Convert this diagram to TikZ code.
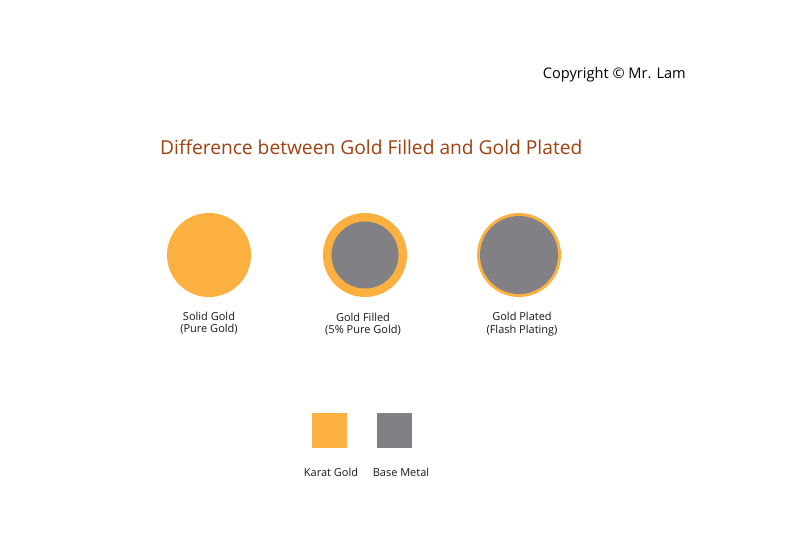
\documentclass[tikz,border=0pt]{standalone}
\usepackage{fontspec}
\setmainfont{Open Sans}
\definecolor{gold}{RGB}{251,176,64}
\definecolor{basemetal}{RGB}{128,128,133}
\definecolor{titlebrown}{RGB}{160,65,15}
\begin{document}
\begin{tikzpicture}[x=1pt,y=-1pt,
  lbl/.style={font=\fontsize{11}{12.5}\selectfont, align=center, inner sep=0pt, text=black!90},
  goldring/.style={circle, fill=gold, minimum size=84pt, inner sep=0pt},
  core/.style={circle, fill=basemetal, inner sep=0pt},
  swatch/.style={minimum size=35pt, inner sep=0pt}]
\useasboundingbox (0,0) rectangle (794,556);
\fill[white] (0,0) rectangle (794,556);
\node[anchor=east, font=\fontsize{14.6}{17}\selectfont, inner sep=0pt] (copy) at (686,74.5) {Copyright © Mr. Lam};
\node[anchor=west, font=\fontsize{19.2}{23}\selectfont, text=titlebrown, inner sep=0pt] (title) at (160,147) {Difference between Gold Filled and Gold Plated};
\node[goldring] (c1) at (209,255) {};
\node[goldring] (c2) at (365,255) {};
\node[core, minimum size=67pt] (k2) at (365,255) {};
\node[goldring] (c3) at (519,255) {};
\node[core, minimum size=78pt] (k3) at (519,255) {};
\node[lbl] (l1) at (209,323) {Solid Gold\\(Pure Gold)};
\node[lbl] (l2) at (363,324) {Gold Filled\\(5\% Pure Gold)};
\node[lbl] (l3) at (522,324) {Gold Plated\\(Flash Plating)};
\node[swatch, fill=gold] (s1) at (329.5,430.5) {};
\node[swatch, fill=basemetal] (s2) at (394,430.5) {};
\node[lbl] (t1) at (331,472) {Karat Gold};
\node[lbl] (t2) at (401,472) {Base Metal};
\end{tikzpicture}
\end{document}
